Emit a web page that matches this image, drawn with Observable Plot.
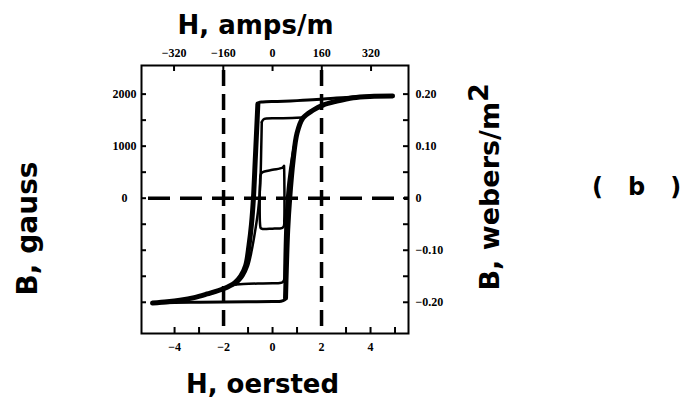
<!DOCTYPE html>
<html><head><meta charset="utf-8">
<script src="https://cdn.jsdelivr.net/npm/d3@7"></script>
<script src="https://cdn.jsdelivr.net/npm/@observablehq/plot@0.6"></script>
<style>body{margin:0;background:#fff}</style>
</head><body><div id="chart"></div>
<script>
// ---- data: H in oersted, B in gauss ----
const majorTopH = [4.9, 4.0, 3.3, 2.5, 1.8, 1.0, 0.2, -0.4, -0.55, -0.6];
const majorTopB = [1962, 1958, 1945, 1920, 1895, 1875, 1860, 1850, 1840, 1810];
const majorLeftH = [-0.6, -0.63, -0.7, -0.78, -0.86, -0.96, -1.1, -1.3, -1.55, -2.0, -2.67, -3.2, -3.78, -4.3, -4.9];
const majorLeftB = [1810, 1500, 800, 0, -500, -900, -1300, -1500, -1630, -1740, -1840, -1910, -1960, -1990, -2015];
const majorBottomH = [-4.9, -4.0, -3.0, -2.0, -1.0, 0.0, 0.35, 0.48, 0.53];
const majorBottomB = [-2015, -2005, -2000, -1995, -1990, -1985, -1980, -1960, -1920];
const majorRightH = [0.53, 0.56, 0.62, 0.7, 0.84, 1.0, 1.24, 1.65, 2.06, 2.63, 3.29, 3.98, 4.9];
const majorRightB = [-1920, -1400, -600, 0, 730, 1250, 1540, 1690, 1790, 1865, 1930, 1955, 1962];

const midTopH = [1.24, 0.8, 0.2, -0.25, -0.38, -0.44];
const midTopB = [1550, 1540, 1535, 1530, 1510, 1460];
const midLeftH = [-0.44, -0.46, -0.5, -0.58, -0.7, -0.85, -1.0, -1.2, -1.5];
const midLeftB = [1460, 1000, 300, -200, -600, -1000, -1300, -1500, -1660];
const midBottomH = [-1.5, -1.2, -0.6, 0.0, 0.3, 0.42, 0.48];
const midBottomB = [-1660, -1650, -1640, -1635, -1630, -1610, -1560];
const midRightH = [0.48, 0.5, 0.55, 0.65, 0.8, 0.95, 1.1, 1.24];
const midRightB = [-1560, -1000, -300, 300, 800, 1150, 1400, 1550];

const innerH = [0.47, 0.4, 0.0, -0.38, -0.48, -0.51, -0.51, -0.48, -0.4, 0.0, 0.38, 0.46, 0.48, 0.48, 0.47];
const innerB = [620, 585, 545, 505, 460, 300, -500, -575, -592, -585, -575, -540, -400, 400, 620];

// ---- axes ----
const oerstedLabels = [-4, -2, 0, 2, 4];
const oerstedTicks = [-4, -3, -1, 0, 1, 3, 4, 5];
const ampsLabels = [-320, -160, 0, 160, 320];
const gaussLabels = [2000, 1000, 0];
const gaussTicks = [-2000, -1500, -1000, -500, 0, 500, 1000, 1500, 2000];
const teslaLabels = [0.20, 0.10, 0, -0.10, -0.20];
const teslaTicks = [-0.20, -0.15, -0.10, -0.05, 0, 0.05, 0.10, 0.15, 0.20];
const dashedH = [-2, 2];
const dashedB = [0];

const AMPS_PER_OE = 79.577;
const GAUSS_PER_T = 10000;

const pts = (H, B) => H.map((h, i) => ({h, b: B[i]}));
const minus = s => String(s).replace("-", "\u2212");
const NB = "\u00a0";

const W = 688, HT = 400, ML = 141, MR = 280, MT = 65, MB = 67;
const PW = W - ML - MR, PH = HT - MT - MB;

const tickFont = {fontFamily: "Liberation Serif", fontWeight: "bold", fontSize: 12, lineAnchor: "middle"};
const titleFont = {fontFamily: "DejaVu Sans", fontWeight: "bold", fill: "black", lineAnchor: "middle", frameAnchor: "top-left"};

const line = (H, B, w) => Plot.line(pts(H, B), {x: "h", y: "b", stroke: "black", strokeWidth: w, curve: "catmull-rom", strokeLinecap: "round", strokeLinejoin: "round"});

const chart = Plot.plot({
  width: W, height: HT,
  marginLeft: ML, marginRight: MR, marginTop: MT, marginBottom: MB,
  x: {domain: [-5.35, 5.55], axis: null},
  y: {domain: [-2600, 2550], axis: null},
  style: {background: "white", color: "black"},
  marks: [
    Plot.frame({stroke: "black", strokeWidth: 2}),
    // dashed reference lines
    Plot.ruleX(dashedH, {x: d => d, stroke: "black", strokeWidth: 3.5, strokeDasharray: "16,8", strokeDashoffset: 19}),
    Plot.ruleY(dashedB, {y: d => d, stroke: "black", strokeWidth: 3.5, strokeDasharray: "22,10", strokeDashoffset: 25}),
    // inward ticks
    Plot.ruleX(oerstedTicks, {x: d => d, insetTop: PH - 6, stroke: "black", strokeWidth: 2}),
    Plot.ruleX(ampsLabels, {x: d => d / AMPS_PER_OE, insetBottom: PH - 6, stroke: "black", strokeWidth: 2}),
    Plot.ruleY(gaussTicks, {y: d => d, insetRight: PW - 5, stroke: "black", strokeWidth: 2}),
    Plot.ruleY(teslaTicks, {y: d => d * GAUSS_PER_T, insetLeft: PW - 5, stroke: "black", strokeWidth: 2}),
    // tick labels
    Plot.text(oerstedLabels, {x: d => d, frameAnchor: "bottom", dy: 14, text: d => minus(d), ...tickFont}),
    Plot.text(ampsLabels, {x: d => d / AMPS_PER_OE, frameAnchor: "top", dy: -12, text: d => minus(d), ...tickFont}),
    Plot.text(gaussLabels, {y: d => d, frameAnchor: "left", dx: -17, textAnchor: "middle", text: d => String(d), ...tickFont}),
    Plot.text(teslaLabels, {y: d => d * GAUSS_PER_T, frameAnchor: "right", dx: 7, textAnchor: "start", text: d => d === 0 ? "0" : minus(d.toFixed(2)), ...tickFont}),
    // loops
    line(innerH, innerB, 2.5),
    line(midTopH, midTopB, 2.5),
    line(midLeftH, midLeftB, 2.5),
    line(midBottomH, midBottomB, 2.5),
    line(midRightH, midRightB, 2.5),
    line(majorTopH, majorTopB, 3),
    line(majorBottomH, majorBottomB, 3),
    line(majorLeftH, majorLeftB, 5),
    line(majorRightH, majorRightB, 5),
    // titles
    Plot.text(["H, amps/m"], {dx: 114, dy: -40, textAnchor: "middle", fontSize: 26, ...titleFont}),
    Plot.text(["H, oersted"], {dx: 121, dy: 319, textAnchor: "middle", fontSize: 26, ...titleFont}),
    Plot.text(["B, gauss"], {dx: -113, dy: 163, rotate: -90, textAnchor: "middle", fontSize: 28, ...titleFont}),
    Plot.text(["B, webers/m"], {dx: 349, dy: 225, rotate: -90, textAnchor: "start", fontSize: 27, ...titleFont}),
    Plot.text([`(${NB}${NB}${NB}b${NB}${NB}${NB})`], {dx: 495, dy: 122, textAnchor: "middle", fontSize: 24, ...titleFont})
  ]
});

for (const t of chart.querySelectorAll("text")) {
  if (t.textContent === "B, webers/m") {
    const s = document.createElementNS("http://www.w3.org/2000/svg", "tspan");
    s.setAttribute("dy", "-0.4em");
    s.textContent = "2";
    t.appendChild(s);
  }
}
document.getElementById("chart").appendChild(chart);
</script></body></html>
